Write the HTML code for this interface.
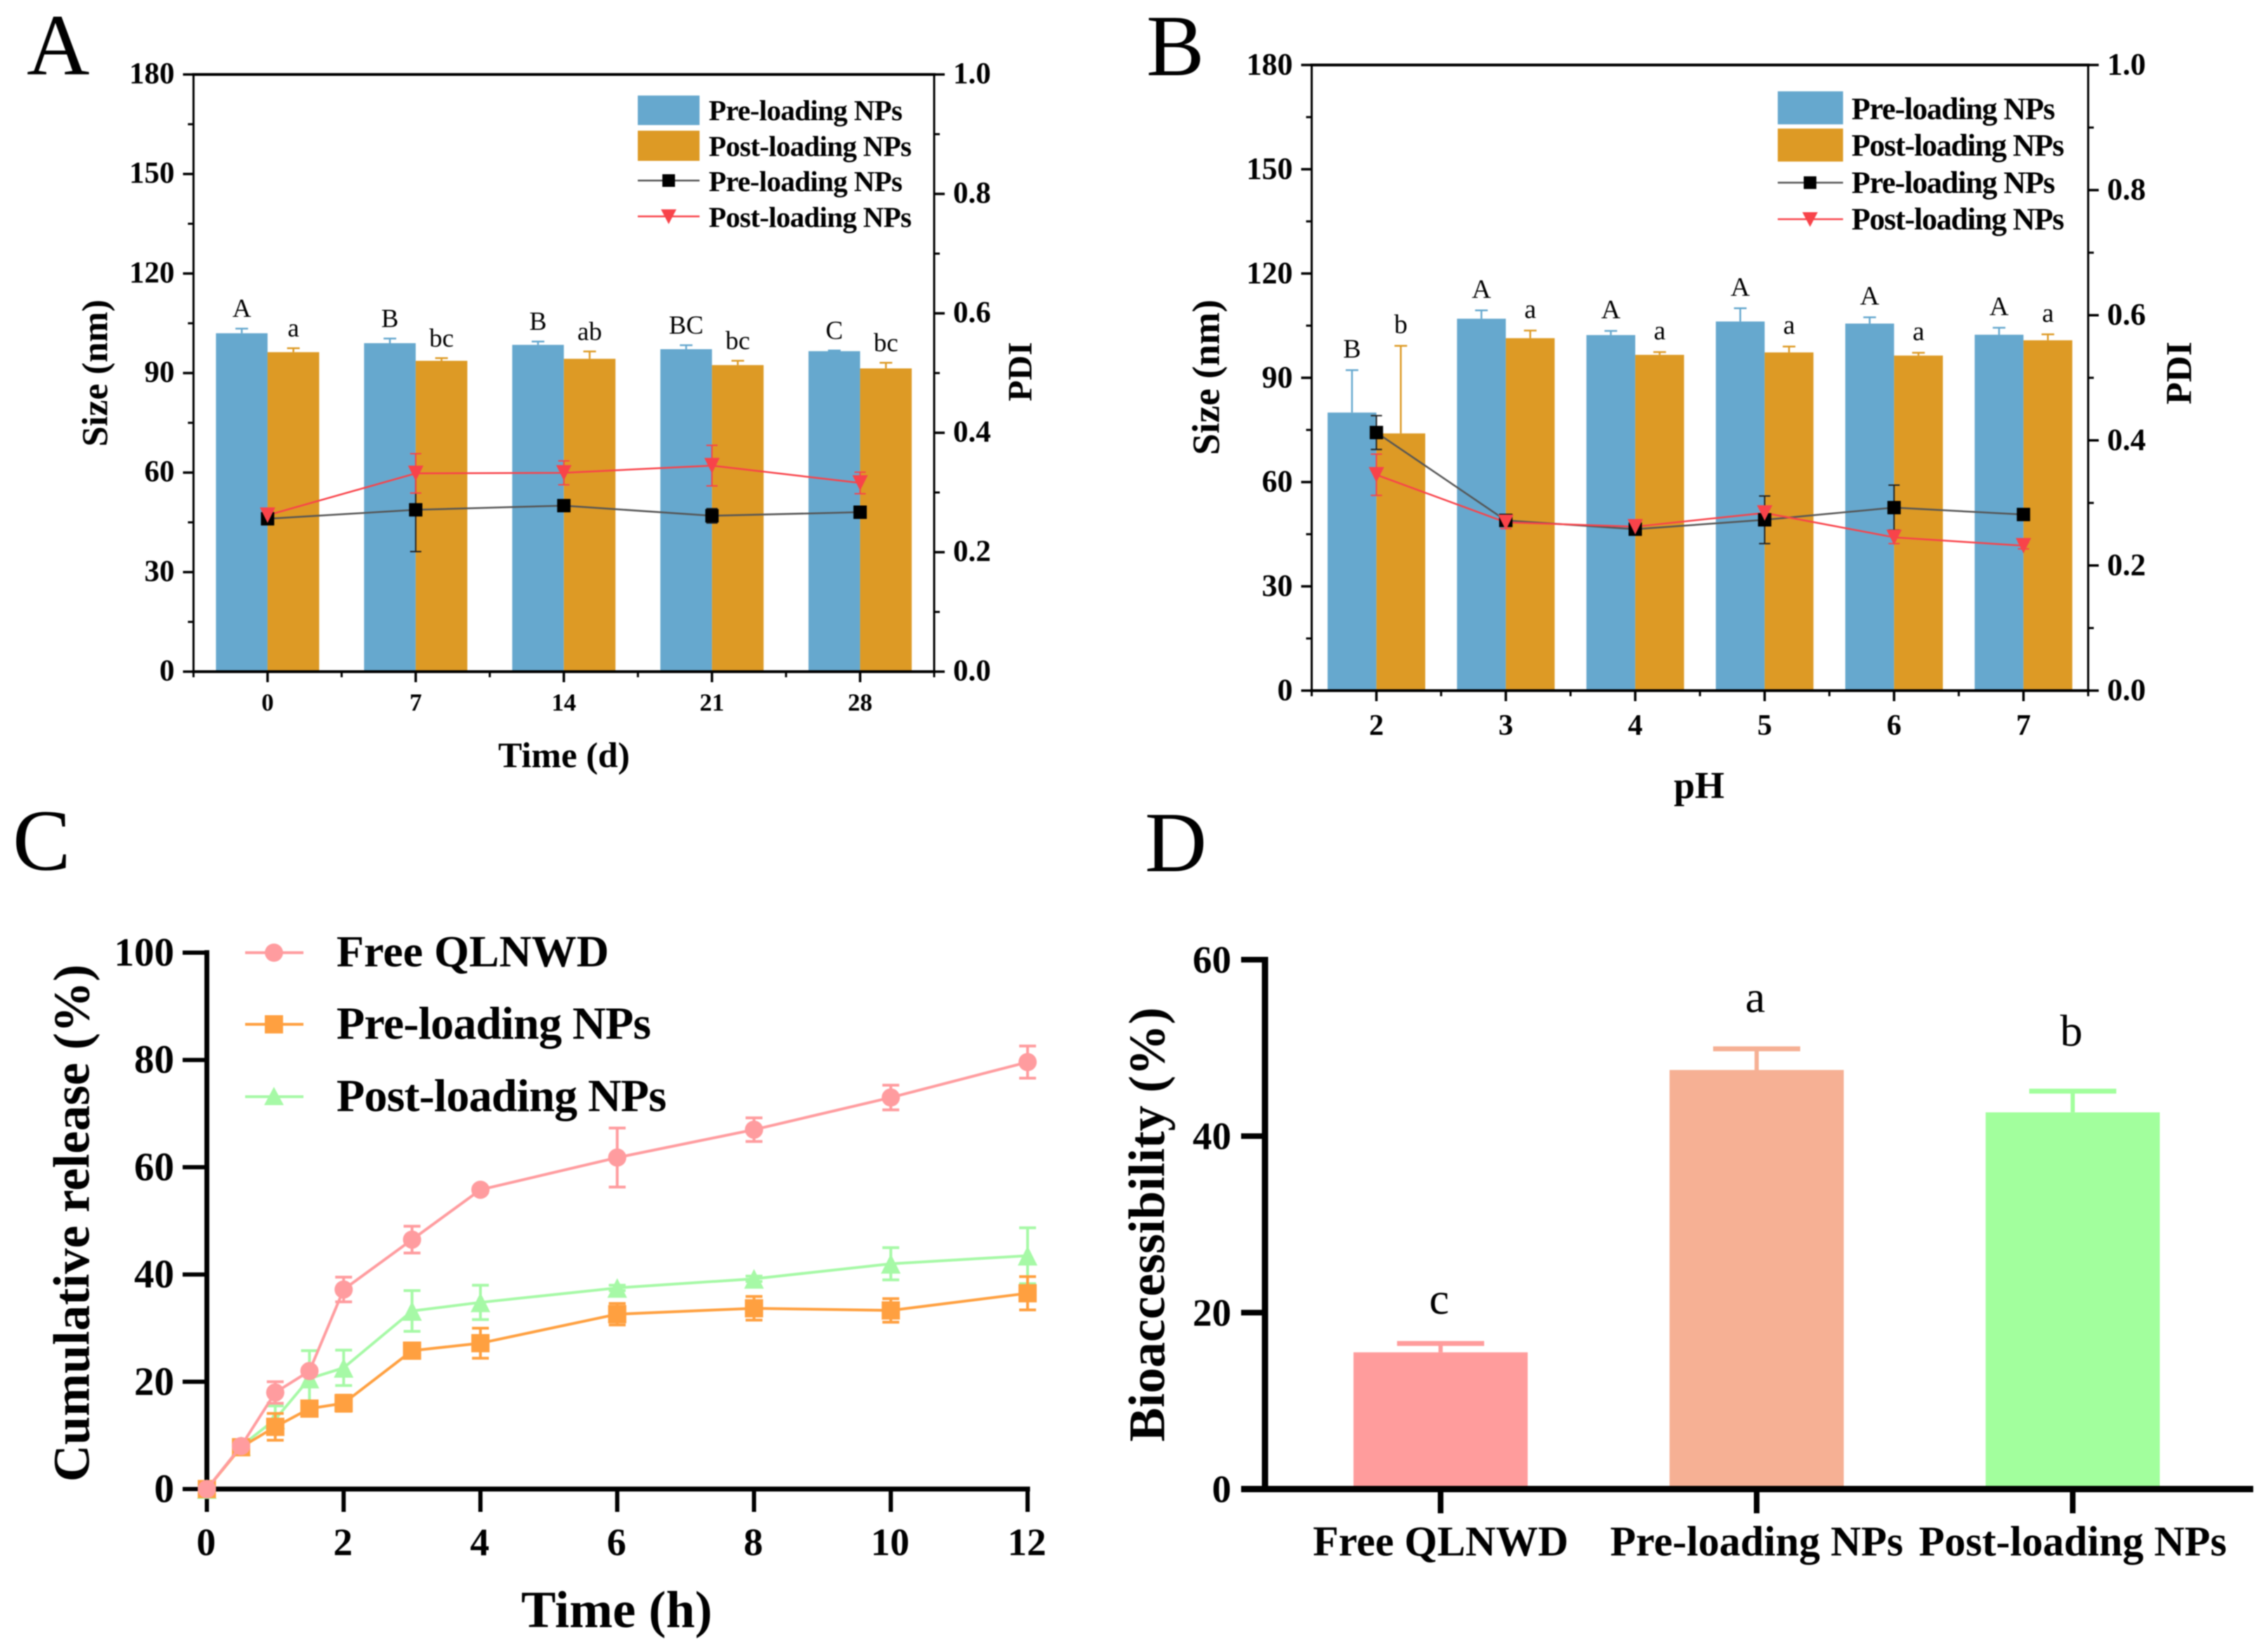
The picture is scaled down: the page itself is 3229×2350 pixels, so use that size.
<!DOCTYPE html>
<html lang="en">
<head>
<meta charset="utf-8">
<title>Nanoparticle size, PDI, release and bioaccessibility</title>
<style>
html,body{margin:0;padding:0;background:#fff;}
svg{display:block;filter:blur(0.7px);}
text{font-family:"Liberation Serif",serif;fill:#000;}
.b{font-weight:bold;}
.c{text-anchor:middle;dominant-baseline:central;}
.s{dominant-baseline:central;}
</style>
</head>
<body>
<svg id="figure" xmlns="http://www.w3.org/2000/svg" width="3229" height="2350" viewBox="0 0 3229 2350">
<rect x="0" y="0" width="3229" height="2350" fill="#fff"/>

<g id="panel-a">
  <text x="38" y="106" font-size="124">A</text>
  <g id="a-marks"></g>
  <text class="b c" x="803" y="1076" font-size="51">Time (d)</text>
  <text class="b c" transform="translate(136,531) rotate(-90)" font-size="52">Size (nm)</text>
  <text class="b c" transform="translate(1452,529) rotate(-90)" font-size="49">PDI</text>
  <g>
    <rect x="908" y="136" width="88" height="42" fill="#66A8CE"/>
    <rect x="908" y="186" width="88" height="43" fill="#DD9A25"/>
    <line x1="908" x2="996" y1="257" y2="257" stroke="#555" stroke-width="2.5"/>
    <rect x="943" y="248" width="18" height="18" fill="#000"/>
    <line x1="908" x2="996" y1="308" y2="308" stroke="#F8434A" stroke-width="2.5"/>
    <polygon points="941,298 963,298 952,319" fill="#F8434A"/>
    <text class="b s" x="1009" y="157" font-size="41" textLength="276">Pre-loading NPs</text>
    <text class="b s" x="1009" y="208" font-size="41" textLength="289">Post-loading NPs</text>
    <text class="b s" x="1009" y="258" font-size="41" textLength="276">Pre-loading NPs</text>
    <text class="b s" x="1009" y="309" font-size="41" textLength="289">Post-loading NPs</text>
  </g>
</g>

<g id="panel-b">
  <text x="1632" y="107" font-size="124">B</text>
  <g id="b-marks"></g>
  <text class="b c" x="2419" y="1118" font-size="54">pH</text>
  <text class="b c" transform="translate(1717,537) rotate(-90)" font-size="55">Size (nm)</text>
  <text class="b c" transform="translate(3103,531) rotate(-90)" font-size="52">PDI</text>
  <g>
    <rect x="2531" y="130" width="93" height="47" fill="#66A8CE"/>
    <rect x="2531" y="183" width="93" height="47" fill="#DD9A25"/>
    <line x1="2531" x2="2624" y1="260" y2="260" stroke="#555" stroke-width="2.5"/>
    <rect x="2568" y="251" width="18" height="18" fill="#000"/>
    <line x1="2531" x2="2624" y1="312" y2="312" stroke="#F8434A" stroke-width="2.5"/>
    <polygon points="2566,302 2588,302 2577,323" fill="#F8434A"/>
    <text class="b s" x="2636" y="155" font-size="44" textLength="290">Pre-loading NPs</text>
    <text class="b s" x="2636" y="207" font-size="44" textLength="303">Post-loading NPs</text>
    <text class="b s" x="2636" y="260" font-size="44" textLength="290">Pre-loading NPs</text>
    <text class="b s" x="2636" y="312" font-size="44" textLength="303">Post-loading NPs</text>
  </g>
</g>

<g id="panel-c">
  <text x="18" y="1238" font-size="124">C</text>
  <g id="c-marks"></g>
  <text class="b c" x="878" y="2292" font-size="74">Time (h)</text>
  <text class="b c" transform="translate(102,1741) rotate(-90)" font-size="73">Cumulative release (%)</text>
  <g>
    <line x1="349" x2="432" y1="1356" y2="1356" stroke="#FF9C9F" stroke-width="4"/>
    <circle cx="390" cy="1356" r="13" fill="#FF9C9F"/>
    <line x1="349" x2="432" y1="1458" y2="1458" stroke="#FFA040" stroke-width="4"/>
    <rect x="377" y="1445" width="26" height="26" fill="#FFA040"/>
    <line x1="349" x2="432" y1="1561" y2="1561" stroke="#A6F9A6" stroke-width="4"/>
    <polygon points="390,1547 404,1573 376,1573" fill="#A6F9A6"/>
    <text class="b s" x="479" y="1354" font-size="64" textLength="388">Free QLNWD</text>
    <text class="b s" x="479" y="1457" font-size="66" textLength="448">Pre-loading NPs</text>
    <text class="b s" x="479" y="1560" font-size="66" textLength="470">Post-loading NPs</text>
  </g>
</g>

<g id="panel-d">
  <text x="1630" y="1240" font-size="122">D</text>
  <g id="d-marks"></g>
  <text class="b c" transform="translate(1633,1743) rotate(-90)" font-size="73">Bioaccessibility (%)</text>
</g>
</svg>

<script>
// Panel A data
const aCategories = ['0', '7', '14', '21', '28'];
const aPreSize = [102, 99, 98.5, 97.2, 96.6];
const aPostSize = [96.3, 93.7, 94.3, 92.4, 91.4];
const aPreSizeErr = [1.4, 1.4, 1, 1.2, 0.2];
const aPostSizeErr = [1.2, 0.8, 2.2, 1.3, 1.7];
const aPrePdi = [0.256, 0.271, 0.278, 0.261, 0.267];
const aPostPdi = [0.262, 0.332, 0.333, 0.345, 0.316];
const aPrePdiErr = [0.01, 0.07, 0.008, 0.012, 0.006];
const aPostPdiErr = [0.005, 0.033, 0.02, 0.034, 0.018];
const aPreLetters = ['A', 'B', 'B', 'BC', 'C'];
const aPostLetters = ['a', 'bc', 'ab', 'bc', 'bc'];

// Panel B data
const bCategories = ['2', '3', '4', '5', '6', '7'];
const bPreSize = [80, 107, 102.3, 106.2, 105.6, 102.4];
const bPostSize = [74, 101.4, 96.6, 97.3, 96.4, 100.8];
const bPreSizeErr = [12.2, 2.4, 1.2, 3.8, 1.8, 2];
const bPostSizeErr = [25.2, 2.2, 0.8, 1.7, 0.8, 1.7];
const bPrePdi = [0.4125, 0.272, 0.258, 0.273, 0.2925, 0.2815];
const bPostPdi = [0.345, 0.269, 0.262, 0.284, 0.245, 0.2316];
const bPrePdiErr = [0.027, 0.008, 0.005, 0.038, 0.036, 0.005];
const bPostPdiErr = [0.033, 0.01, 0.005, 0.01, 0.01, 0.005];
const bPreLetters = ['B', 'A', 'A', 'A', 'A', 'A'];
const bPostLetters = ['b', 'a', 'a', 'a', 'a', 'a'];

// Shared tick labels for A and B
const sizeTicks = [0, 30, 60, 90, 120, 150, 180];
const pdiTicks = ['0.0', '0.2', '0.4', '0.6', '0.8', '1.0'];

// Panel C data
const cTimes = [0, 0.5, 1, 1.5, 2, 3, 4, 6, 8, 10, 12];
const cFree = [0, 8, 18, 22, 37.2, 46.5, 55.8, 61.8, 67, 73, 79.6];
const cFreeErr = [0, 0.5, 2, 0.5, 2.3, 2.5, 0.5, 5.5, 2.2, 2.3, 3];
const cPre = [0, 7.8, 11.6, 15, 16, 25.8, 27.2, 32.6, 33.7, 33.3, 36.5];
const cPreErr = [0, 0.5, 2.5, 0.8, 1.5, 0.8, 2.8, 2, 2.2, 2.2, 3.1];
const cPost = [0, 8, 13, 20.6, 22.6, 33.2, 34.8, 37.5, 39.2, 42, 43.5];
const cPostErr = [0, 0.5, 2.5, 5.2, 3.3, 3.8, 3.2, 0.5, 0.5, 3, 5.2];
const cXTicks = [0, 2, 4, 6, 8, 10, 12];
const cYTicks = [0, 20, 40, 60, 80, 100];

// Panel D data
const dCategories = ['Free QLNWD', 'Pre-loading NPs', 'Post-loading NPs'];
const dValues = [15.5, 47.5, 42.7];
const dErrors = [1, 2.4, 2.4];
const dLetters = ['c', 'a', 'b'];
const dColors = ['#FF9C9C', '#F6B094', '#A2FF9D'];
const dYTicks = [0, 20, 40, 60];

const NS = 'http://www.w3.org/2000/svg';
function el(parent, tag, attrs, txt) {
  const n = document.createElementNS(NS, tag);
  for (const k in attrs) n.setAttribute(k, attrs[k]);
  if (txt !== undefined) n.textContent = txt;
  parent.appendChild(n);
  return n;
}
function scale(d0, d1, r0, r1) {
  return v => r0 + (v - d0) * (r1 - r0) / (d1 - d0);
}
function hLine(p, x1, x2, y, color, w, name) {
  const n = el(p, 'line', {x1: x1, x2: x2, y1: y, y2: y, stroke: color, 'stroke-width': w});
  
  
}
function vLine(p, x, y1, y2, color, w, name) {
  const n = el(p, 'line', {x1: x, x2: x, y1: y1, y2: y2, stroke: color, 'stroke-width': w});
  
  
}
function label(p, x, y, str, size, anchor, bold, name) {
  const n = el(p, 'text', {x: x, y: y, 'font-size': size, 'text-anchor': anchor, 'dominant-baseline': 'central', 'font-weight': bold ? 'bold' : 'normal'}, str);
  
  
}
function polyline(p, pts, color, w, name) {
  const n = el(p, 'polyline', {points: pts.map(q => q.join(',')).join(' '), fill: 'none', stroke: color, 'stroke-width': w, 'stroke-linejoin': 'round'});
  
  
}
function square(p, x, y, side, color, name) {
  const n = el(p, 'rect', {x: x - side / 2, y: y - side / 2, width: side, height: side, fill: color});
  
  
}
function triangle(p, x, y, size, dir, color, name) {
  const h = size * 0.5;
  const pts = dir === 'down'
    ? [[x - h, y - h], [x + h, y - h], [x, y + h]]
    : [[x, y - h], [x + h, y + h], [x - h, y + h]];
  const n = el(p, 'polygon', {points: pts.map(q => q.join(',')).join(' '), fill: color});
  
  
}
function circle(p, x, y, r, color, name) {
  const n = el(p, 'circle', {cx: x, cy: y, r: r, fill: color});
  
  
}
function errorBar(p, x, yHi, yLo, cap, color, w, name) {
  vLine(p, x, yHi, yLo, color, w, name + '-stem');
  hLine(p, x - cap / 2, x + cap / 2, yHi, color, w, name + '-cap-top');
  if (yLo !== null) hLine(p, x - cap / 2, x + cap / 2, yLo, color, w, name + '-cap-bottom');
}

function drawCombo(root, box, cats, preS, postS, preSE, postSE, preP, postP, prePE, postPE, preL, postL) {
  const yS = scale(0, 180, box.bottom, box.top);
  const yP = scale(0, 1, box.bottom, box.top);
  const band = (box.right - box.left) / cats.length;
  const x = i => box.left + (i + 0.5) * band;
  const blue = '#66A8CE', gold = '#DD9A25', red = '#F8434A';

  // Bars
  cats.forEach((c, i) => {
    const b1 = el(root, 'rect', {x: x(i) - box.barW, y: yS(preS[i]), width: box.barW, height: box.bottom - yS(preS[i]), fill: blue});
    
    
    const b2 = el(root, 'rect', {x: x(i), y: yS(postS[i]), width: box.barW, height: box.bottom - yS(postS[i]), fill: gold});
    
    
    const hi1 = yS(preS[i] + preSE[i]);
    const hi2 = yS(postS[i] + postSE[i]);
    vLine(root, x(i) - box.barW / 2, hi1, yS(preS[i]), blue, 2.5, 'bar-error-pre-' + c);
    hLine(root, x(i) - box.barW / 2 - 9, x(i) - box.barW / 2 + 9, hi1, blue, 2.5, 'bar-error-cap-pre-' + c);
    vLine(root, x(i) + box.barW / 2, hi2, yS(postS[i]), gold, 2.5, 'bar-error-post-' + c);
    hLine(root, x(i) + box.barW / 2 - 9, x(i) + box.barW / 2 + 9, hi2, gold, 2.5, 'bar-error-cap-post-' + c);
    label(root, x(i) - box.barW / 2, hi1 - box.letterGap, preL[i], box.letterSize, 'middle', false, 'significance-pre-' + c);
    label(root, x(i) + box.barW / 2, hi2 - box.letterGap, postL[i], box.letterSize, 'middle', false, 'significance-post-' + c);
  });

  // PDI lines, error bars, markers
  polyline(root, cats.map((c, i) => [x(i), yP(preP[i])]), '#555', 2.5, 'line-pdi-pre-loading');
  polyline(root, cats.map((c, i) => [x(i), yP(postP[i])]), red, 2.5, 'line-pdi-post-loading');
  cats.forEach((c, i) => {
    errorBar(root, x(i), yP(preP[i] + prePE[i]), yP(preP[i] - prePE[i]), 16, '#222', 2, 'pdi-error-pre-' + c);
    errorBar(root, x(i), yP(postP[i] + postPE[i]), yP(postP[i] - postPE[i]), 16, red, 2, 'pdi-error-post-' + c);
    square(root, x(i), yP(preP[i]), 19, '#000', 'pdi-point-pre-' + c);
    triangle(root, x(i), yP(postP[i]), 22, 'down', red, 'pdi-point-post-' + c);
  });

  // Frame
  const fw = 4;
  hLine(root, box.left - 2, box.right + 2, box.top, '#000', fw, 'plot-frame-top');
  hLine(root, box.left - 2, box.right + 2, box.bottom, '#000', fw, 'x-axis-line');
  vLine(root, box.left, box.top, box.bottom, '#000', 3, 'y-axis-left-line');
  vLine(root, box.right, box.top, box.bottom, '#000', 3, 'y-axis-right-line');

  // Left axis ticks
  sizeTicks.forEach((t, i) => {
    hLine(root, box.left - 15, box.left, yS(t), '#000', 3.5, 'size-tick-' + t);
    label(root, box.left - 27, yS(t) - 1, String(t), box.yFont, 'end', true, 'size-tick-label-' + t);
    if (i < sizeTicks.length - 1) {
      hLine(root, box.left - 8, box.left, yS((t + sizeTicks[i + 1]) / 2), '#000', 3, 'size-minor-tick-' + i);
    }
  });
  // Right axis ticks
  pdiTicks.forEach((t, i) => {
    const v = parseFloat(t);
    hLine(root, box.right, box.right + 15, yP(v), '#000', 3.5, 'pdi-tick-' + t);
    label(root, box.right + 27, yP(v) - 1, t, box.yFont, 'start', true, 'pdi-tick-label-' + t);
    if (i < pdiTicks.length - 1) {
      hLine(root, box.right, box.right + 8, yP(v + 0.1), '#000', 3, 'pdi-minor-tick-' + i);
    }
  });
  // Bottom ticks
  cats.forEach((c, i) => {
    vLine(root, x(i), box.bottom, box.bottom + 15, '#000', 3.5, 'x-tick-' + c);
    label(root, x(i), box.xLabelY, c, box.xFont, 'middle', true, 'x-tick-label-' + c);
    vLine(root, x(i) - band / 2, box.bottom, box.bottom + 8, '#000', 3, 'x-minor-tick-' + i);
  });
  vLine(root, box.right, box.bottom, box.bottom + 8, '#000', 3, 'x-minor-tick-last');
}

drawCombo(document.getElementById('a-marks'),
  {left: 275.5, right: 1330, top: 106, bottom: 956, barW: 73.5, letterGap: 28, letterSize: 37, yFont: 43, xFont: 35, xLabelY: 1000},
  aCategories, aPreSize, aPostSize, aPreSizeErr, aPostSizeErr, aPrePdi, aPostPdi, aPrePdiErr, aPostPdiErr, aPreLetters, aPostLetters);

drawCombo(document.getElementById('b-marks'),
  {left: 1867.5, right: 2973, top: 92.5, bottom: 983, barW: 69.5, letterGap: 30, letterSize: 38, yFont: 44, xFont: 42, xLabelY: 1033},
  bCategories, bPreSize, bPostSize, bPreSizeErr, bPostSizeErr, bPrePdi, bPostPdi, bPrePdiErr, bPostPdiErr, bPreLetters, bPostLetters);

// Panel C
(function () {
  const root = document.getElementById('c-marks');
  const xC = scale(0, 12, 294.5, 1463);
  const yC = scale(0, 100, 2119.5, 1356);
  const top = root;
  function series(values, errs, color, key) {
    cTimes.forEach((t, i) => {
      if (errs[i] > 0) {
        errorBar(top, xC(t), yC(values[i] + errs[i]), yC(values[i] - errs[i]), 24, color, 4, 'error-' + key + '-' + t);
      }
    });
    polyline(top, cTimes.map((t, i) => [xC(t), yC(values[i])]), color, 4, 'line-' + key);
    cTimes.forEach((t, i) => {
      if (key === 'free') circle(top, xC(t), yC(values[i]), 13, color, 'point-free-' + t);
      if (key === 'pre') square(top, xC(t), yC(values[i]), 26, color, 'point-pre-' + t);
      if (key === 'post') triangle(top, xC(t), yC(values[i]), 28, 'up', color, 'point-post-' + t);
    });
  }
  // Axes first so points at origin sit on top
  vLine(root, 294.5, 1352.5, 2123, '#000', 7, 'y-axis-line');
  hLine(root, 291, 1466.5, 2119.5, '#000', 7, 'x-axis-line');
  cYTicks.forEach(t => {
    hLine(root, 260, 294.5, yC(t), '#000', 6, 'y-tick-' + t);
    label(root, 248, yC(t), String(t), 57, 'end', true, 'y-tick-label-' + t);
  });
  cXTicks.forEach(t => {
    vLine(root, xC(t), 2119.5, 2152, '#000', 6, 'x-tick-' + t);
    label(root, xC(t) - 1, 2195, String(t), 55, 'middle', true, 'x-tick-label-' + t);
  });
  series(cPost, cPostErr, '#A6F9A6', 'post');
  series(cPre, cPreErr, '#FFA040', 'pre');
  series(cFree, cFreeErr, '#FF9C9F', 'free');
})();

// Panel D
(function () {
  const root = document.getElementById('d-marks');
  const yD = scale(0, 60, 2119.5, 1366);
  const barCenters = scale(0, 2, 2051, 2951);
  const barW = 248;
  const letterLift = s => (s === 'b' ? 86 : s === 'a' ? 74 : 64);
  dCategories.forEach((c, i) => {
    const cx = barCenters(i);
    const bar = el(root, 'rect', {x: cx - barW / 2, y: yD(dValues[i]), width: barW, height: 2119.5 - yD(dValues[i]), fill: dColors[i]});
    
    
    const hi = yD(dValues[i] + dErrors[i]);
    vLine(root, cx, hi, yD(dValues[i]), dColors[i], 6, 'error-stem-' + i);
    hLine(root, cx - 62, cx + 62, hi, dColors[i], 7, 'error-cap-' + i);
    label(root, cx - 2, hi - letterLift(dLetters[i]), dLetters[i], 64, 'middle', false, 'significance-letter-' + i);
    vLine(root, cx, 2119.5, 2154, '#000', 8, 'x-tick-' + i);
    label(root, cx, 2194, c, 60, 'middle', true, 'x-tick-label-' + i);
  });
  vLine(root, 1801, 1362, 2124, '#000', 9, 'y-axis-line');
  hLine(root, 1767, 3208, 2119.5, '#000', 9, 'x-axis-line');
  dYTicks.forEach(t => {
    hLine(root, 1767, 1801, yD(t), '#000', 8, 'y-tick-' + t);
    label(root, 1753, yD(t), String(t), 55, 'end', true, 'y-tick-label-' + t);
  });
})();
</script>
</body>
</html>
